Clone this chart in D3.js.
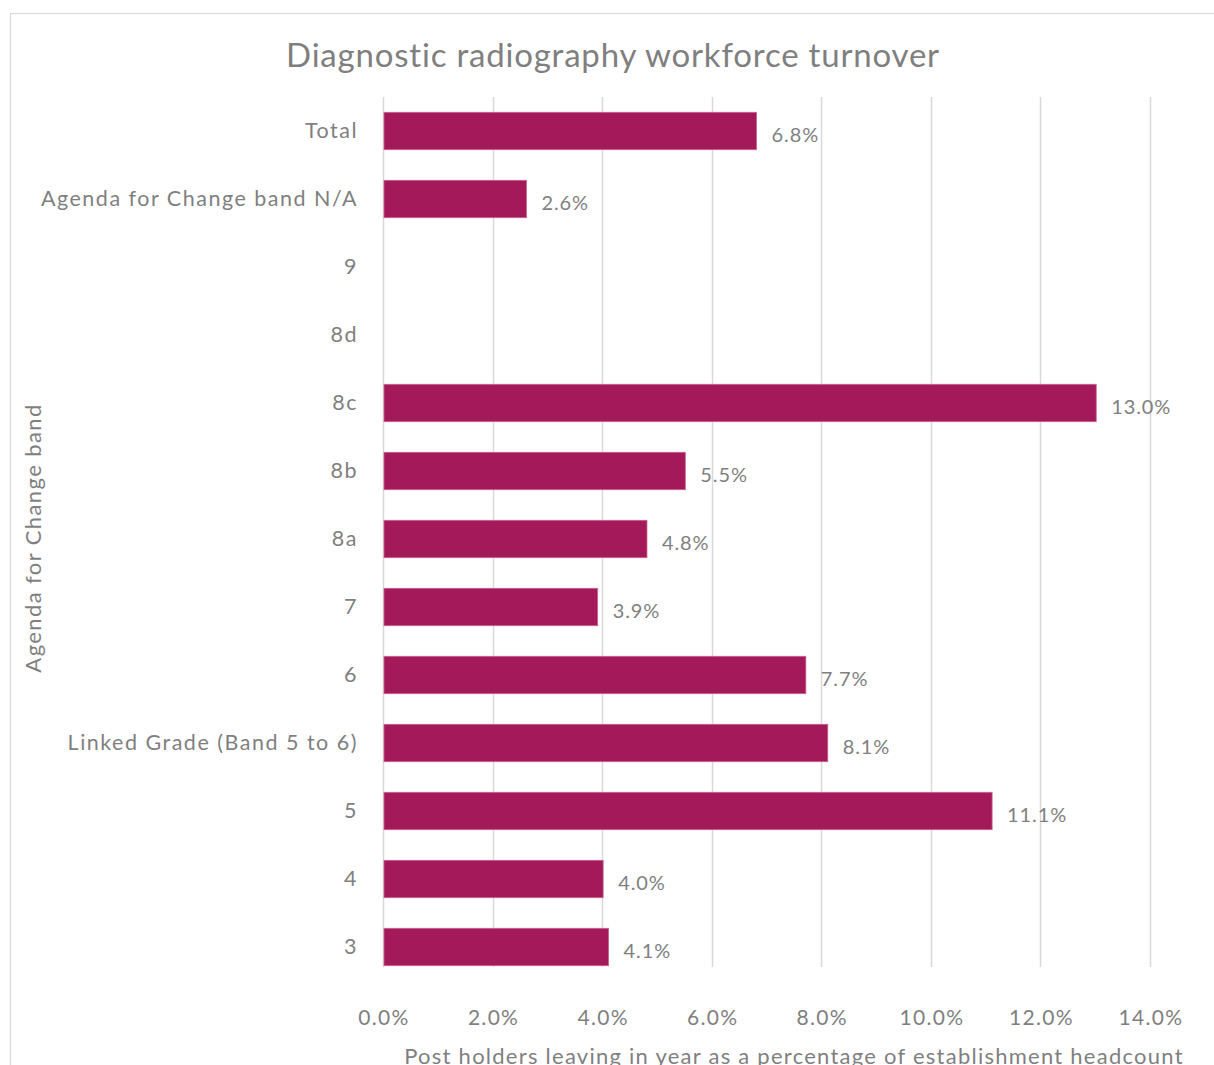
<!DOCTYPE html>
<html>
<head>
<meta charset="utf-8">
<script src="https://cdn.jsdelivr.net/npm/d3@7/dist/d3.min.js"></script>
<style>
  html, body { margin: 0; padding: 0; background: #fff; overflow: hidden; }
  svg { display: block; }
  text { font-family: Lato, "Open Sans", sans-serif; }
</style>
</head>
<body>
<script>
// Agenda for Change bands, top to bottom
const bands = ["Total", "Agenda for Change band N/A", "9", "8d", "8c", "8b", "8a", "7", "6",
               "Linked Grade (Band 5 to 6)", "5", "4", "3"];
// Turnover (% of establishment headcount); null = no value reported
const turnover = [6.8, 2.6, null, null, 13.0, 5.5, 4.8, 3.9, 7.7, 8.1, 11.1, 4.0, 4.1];
const xTicks = [0, 2, 4, 6, 8, 10, 12, 14];

const W = 1214, H = 1065;
const barColor = "#A4195A";
const textColor = "#7F7F7F";
const gridColor = "#D9D9D9";

const svg = d3.select("body").append("svg").attr("width", W).attr("height", H);

// chart frame
svg.append("rect")
  .attr("x", 10.5).attr("y", 13.5)
  .attr("width", W + 20).attr("height", H + 20)
  .attr("fill", "#fff").attr("stroke", "#D9D9D9").attr("stroke-width", 1.2);

const plotTop = 97, plotBottom = 967;
const x = d3.scaleLinear().domain([0, 14]).range([383, 1150]);
const y = d3.scaleBand().domain(bands).range([97, 981]).paddingInner(0.45).paddingOuter(0.225);

// vertical gridlines
svg.append("g").selectAll("line").data(xTicks).join("line")
  .attr("x1", d => Math.round(x(d)) + 0.5).attr("x2", d => Math.round(x(d)) + 0.5)
  .attr("y1", plotTop).attr("y2", plotBottom)
  .attr("stroke", gridColor).attr("stroke-width", 1.5);

// x tick labels
svg.append("g").selectAll("text").data(xTicks).join("text")
  .attr("x", d => x(d) + 1).attr("y", 1025)
  .attr("text-anchor", "middle")
  .attr("font-size", 21).attr("letter-spacing", 1.3).attr("fill", textColor)
  .text(d => d.toFixed(1) + "%");

const rows = bands.map((b, i) => ({ band: b, value: turnover[i] }));

// bars
svg.append("g").selectAll("rect").data(rows.filter(d => d.value !== null)).join("rect")
  .attr("x", x(0) + 1).attr("y", d => y(d.band))
  .attr("width", d => x(d.value) - x(0)).attr("height", y.bandwidth())
  .attr("fill", barColor).attr("stroke", "#C9648F").attr("stroke-width", 0.8);

// value labels
svg.append("g").selectAll("text").data(rows.filter(d => d.value !== null)).join("text")
  .attr("x", d => x(d.value) + 16).attr("y", d => y(d.band) + y.bandwidth() / 2 + 6)
  .attr("dominant-baseline", "middle")
  .attr("font-size", 20).attr("letter-spacing", 0.9).attr("fill", textColor)
  .text(d => d.value.toFixed(1) + "%");

// category labels
svg.append("g").selectAll("text").data(bands).join("text")
  .attr("x", 358).attr("y", d => y(d) + y.bandwidth() / 2 + 2)
  .attr("text-anchor", "end").attr("dominant-baseline", "middle")
  .attr("font-size", 21.5).attr("letter-spacing", 1.5).attr("fill", textColor)
  .text(d => d);

// title
svg.append("text")
  .attr("x", 613).attr("y", 67)
  .attr("text-anchor", "middle")
  .attr("font-size", 33).attr("letter-spacing", 0.8).attr("fill", textColor)
  .text("Diagnostic radiography workforce turnover");

// axis titles
svg.append("text")
  .attr("transform", "translate(41,538) rotate(-90)")
  .attr("text-anchor", "middle")
  .attr("font-size", 22).attr("letter-spacing", 1.4).attr("fill", textColor)
  .text("Agenda for Change band");

svg.append("text")
  .attr("x", 794).attr("y", 1064)
  .attr("text-anchor", "middle")
  .attr("font-size", 22).attr("letter-spacing", 1.25).attr("fill", textColor)
  .text("Post holders leaving in year as a percentage of establishment headcount");
</script>
</body>
</html>
